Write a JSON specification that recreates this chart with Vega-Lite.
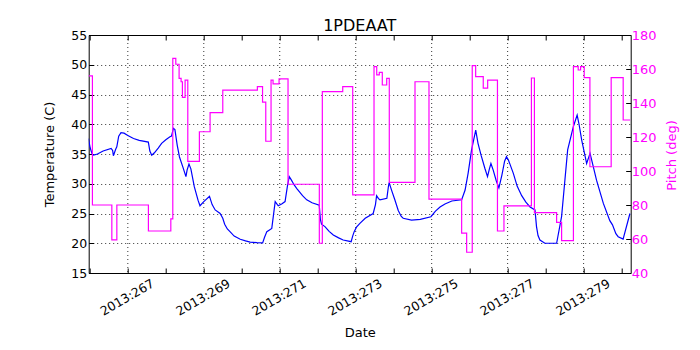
{
  "$schema": "https://vega.github.io/schema/vega-lite/v6.json",
  "autosize": {"type": "none"},
  "padding": {"left": 88.7, "top": 35, "right": 69.3, "bottom": 77},
  "width": 542,
  "height": 238,
  "title": {"text": "1PDEAAT", "fontSize": 16, "font": "DejaVu Sans", "fontWeight": "normal", "color": "black", "baseline": "alphabetic", "offset": 7, "dy": 25},
  "config": {
    "view": {"stroke": "black", "strokeWidth": 1},
    "font": "DejaVu Sans",
    "axis": {"labelFont": "DejaVu Sans", "titleFont": "DejaVu Sans", "labelFontSize": 12.5, "titleFontSize": 13, "titleFontWeight": "normal", "labelColor": "black", "titleColor": "black", "tickColor": "black", "domain": false, "gridColor": "black", "gridDash": [1, 3], "gridWidth": 0.8, "labelOverlap": false, "tickCount": 100}
  },
  "datasets": {
    "grid": [{"day": 267}, {"day": 269}, {"day": 271}, {"day": 273}, {"day": 275}, {"day": 277}, {"day": 279}],
    "temp": [
      {"day": 265.963, "temp": 37.6}, {"day": 266.01, "temp": 36.0}, {"day": 266.06, "temp": 35.0}, {"day": 266.1, "temp": 34.8}, {"day": 266.2, "temp": 35.0}, {"day": 266.35, "temp": 35.5}, {"day": 266.56, "temp": 35.95}, {"day": 266.6, "temp": 35.6}, {"day": 266.62, "temp": 34.7}, {"day": 266.68, "temp": 35.8}, {"day": 266.71, "temp": 36.2}, {"day": 266.76, "temp": 38.0}, {"day": 266.82, "temp": 38.6}, {"day": 266.9, "temp": 38.5}, {"day": 267.0, "temp": 38.1}, {"day": 267.15, "temp": 37.6}, {"day": 267.3, "temp": 37.3}, {"day": 267.54, "temp": 37.0}, {"day": 267.58, "temp": 35.5}, {"day": 267.63, "temp": 34.8}, {"day": 267.7, "temp": 35.2}, {"day": 267.8, "temp": 36.0}, {"day": 267.89, "temp": 36.8}, {"day": 268.0, "temp": 37.4}, {"day": 268.11, "temp": 37.9}, {"day": 268.15, "temp": 38.0}, {"day": 268.2, "temp": 39.3}, {"day": 268.24, "temp": 39.1}, {"day": 268.3, "temp": 36.5}, {"day": 268.36, "temp": 34.5}, {"day": 268.45, "temp": 32.8}, {"day": 268.53, "temp": 31.2}, {"day": 268.56, "temp": 32.3}, {"day": 268.61, "temp": 33.3}, {"day": 268.66, "temp": 32.5}, {"day": 268.75, "temp": 29.5}, {"day": 268.85, "temp": 27.2}, {"day": 268.9, "temp": 26.3}, {"day": 269.0, "temp": 27.0}, {"day": 269.15, "temp": 27.9}, {"day": 269.22, "temp": 26.5}, {"day": 269.3, "temp": 25.6}, {"day": 269.43, "temp": 25.0}, {"day": 269.5, "temp": 24.2}, {"day": 269.55, "temp": 23.2}, {"day": 269.62, "temp": 22.4}, {"day": 269.69, "temp": 21.95}, {"day": 269.8, "temp": 21.2}, {"day": 269.96, "temp": 20.67}, {"day": 270.1, "temp": 20.4}, {"day": 270.22, "temp": 20.2}, {"day": 270.4, "temp": 20.1}, {"day": 270.55, "temp": 20.05}, {"day": 270.6, "temp": 21.0}, {"day": 270.66, "temp": 21.95}, {"day": 270.72, "temp": 22.2}, {"day": 270.79, "temp": 22.5}, {"day": 270.88, "temp": 27.0}, {"day": 270.96, "temp": 26.3}, {"day": 271.05, "temp": 26.6}, {"day": 271.14, "temp": 27.0}, {"day": 271.2, "temp": 29.5}, {"day": 271.25, "temp": 31.2}, {"day": 271.3, "temp": 30.7}, {"day": 271.38, "temp": 29.8}, {"day": 271.45, "temp": 29.2}, {"day": 271.6, "temp": 28.0}, {"day": 271.71, "temp": 27.3}, {"day": 271.85, "temp": 26.8}, {"day": 272.04, "temp": 26.4}, {"day": 272.07, "temp": 24.0}, {"day": 272.1, "temp": 23.2}, {"day": 272.19, "temp": 22.8}, {"day": 272.3, "temp": 22.0}, {"day": 272.41, "temp": 21.4}, {"day": 272.55, "temp": 20.9}, {"day": 272.67, "temp": 20.55}, {"day": 272.88, "temp": 20.26}, {"day": 272.92, "temp": 21.2}, {"day": 272.96, "temp": 21.95}, {"day": 273.02, "temp": 22.7}, {"day": 273.11, "temp": 23.35}, {"day": 273.25, "temp": 24.2}, {"day": 273.46, "temp": 25.0}, {"day": 273.52, "temp": 26.5}, {"day": 273.55, "temp": 28.0}, {"day": 273.6, "temp": 27.5}, {"day": 273.64, "temp": 27.3}, {"day": 273.82, "temp": 27.55}, {"day": 273.86, "temp": 29.5}, {"day": 273.88, "temp": 30.2}, {"day": 273.95, "temp": 28.8}, {"day": 274.03, "temp": 27.3}, {"day": 274.12, "temp": 25.5}, {"day": 274.2, "temp": 24.5}, {"day": 274.25, "temp": 24.2}, {"day": 274.47, "temp": 23.9}, {"day": 274.7, "temp": 24.0}, {"day": 274.98, "temp": 24.46}, {"day": 275.1, "temp": 25.4}, {"day": 275.22, "temp": 26.1}, {"day": 275.35, "temp": 26.6}, {"day": 275.53, "temp": 27.1}, {"day": 275.79, "temp": 27.3}, {"day": 275.88, "temp": 28.95}, {"day": 275.96, "temp": 31.8}, {"day": 276.05, "temp": 35.7}, {"day": 276.16, "temp": 39.0}, {"day": 276.22, "temp": 36.8}, {"day": 276.3, "temp": 34.8}, {"day": 276.4, "temp": 32.6}, {"day": 276.47, "temp": 31.2}, {"day": 276.52, "temp": 32.5}, {"day": 276.56, "temp": 33.4}, {"day": 276.62, "temp": 32.3}, {"day": 276.7, "temp": 30.5}, {"day": 276.77, "temp": 29.3}, {"day": 276.85, "temp": 31.5}, {"day": 276.92, "temp": 33.8}, {"day": 276.97, "temp": 34.55}, {"day": 277.02, "temp": 34.0}, {"day": 277.15, "temp": 31.75}, {"day": 277.25, "temp": 29.6}, {"day": 277.37, "temp": 28.0}, {"day": 277.48, "temp": 26.9}, {"day": 277.59, "temp": 26.1}, {"day": 277.72, "temp": 25.6}, {"day": 277.76, "temp": 22.8}, {"day": 277.8, "temp": 21.3}, {"day": 277.85, "temp": 20.55}, {"day": 277.98, "temp": 20.0}, {"day": 278.29, "temp": 20.0}, {"day": 278.42, "temp": 24.46}, {"day": 278.58, "temp": 35.7}, {"day": 278.73, "temp": 39.6}, {"day": 278.83, "temp": 41.55}, {"day": 278.88, "temp": 40.0}, {"day": 278.95, "temp": 37.35}, {"day": 279.08, "temp": 33.4}, {"day": 279.17, "temp": 35.1}, {"day": 279.25, "temp": 33.0}, {"day": 279.34, "temp": 30.6}, {"day": 279.52, "temp": 26.7}, {"day": 279.69, "temp": 23.8}, {"day": 279.76, "temp": 23.1}, {"day": 279.85, "temp": 21.6}, {"day": 279.91, "temp": 21.1}, {"day": 280.04, "temp": 20.7}, {"day": 280.22, "temp": 25.0}
    ],
    "pitch": [
      {"day": 265.963, "pitch": 156}, {"day": 266.068, "pitch": 80}, {"day": 266.579, "pitch": 59.5}, {"day": 266.711, "pitch": 80}, {"day": 267.542, "pitch": 64.7}, {"day": 268.132, "pitch": 71.8}, {"day": 268.184, "pitch": 166.3}, {"day": 268.263, "pitch": 162.8}, {"day": 268.35, "pitch": 154.5}, {"day": 268.403, "pitch": 152.5}, {"day": 268.437, "pitch": 143.3}, {"day": 268.508, "pitch": 153.5}, {"day": 268.579, "pitch": 105.7}, {"day": 268.884, "pitch": 123.1}, {"day": 269.166, "pitch": 134.3}, {"day": 269.5, "pitch": 147.6}, {"day": 270.411, "pitch": 149.6}, {"day": 270.547, "pitch": 140.5}, {"day": 270.632, "pitch": 117.5}, {"day": 270.771, "pitch": 153.5}, {"day": 270.824, "pitch": 151.3}, {"day": 270.982, "pitch": 154.2}, {"day": 271.218, "pitch": 92.2}, {"day": 272.042, "pitch": 57.5}, {"day": 272.121, "pitch": 146.7}, {"day": 272.658, "pitch": 149.6}, {"day": 272.921, "pitch": 85.9}, {"day": 273.482, "pitch": 161.4}, {"day": 273.553, "pitch": 156.5}, {"day": 273.621, "pitch": 158}, {"day": 273.7, "pitch": 150.6}, {"day": 273.816, "pitch": 154.5}, {"day": 273.884, "pitch": 93.3}, {"day": 274.561, "pitch": 152.5}, {"day": 274.929, "pitch": 83.5}, {"day": 275.789, "pitch": 63.4}, {"day": 275.921, "pitch": 52.2}, {"day": 276.068, "pitch": 162}, {"day": 276.158, "pitch": 155.5}, {"day": 276.358, "pitch": 148.8}, {"day": 276.474, "pitch": 153.5}, {"day": 276.732, "pitch": 64.7}, {"day": 276.903, "pitch": 79.5}, {"day": 277.626, "pitch": 154.7}, {"day": 277.705, "pitch": 75.5}, {"day": 278.289, "pitch": 69.8}, {"day": 278.421, "pitch": 59.0}, {"day": 278.732, "pitch": 161.4}, {"day": 278.858, "pitch": 159.4}, {"day": 278.921, "pitch": 161.4}, {"day": 279.016, "pitch": 154.9}, {"day": 279.166, "pitch": 102.5}, {"day": 279.726, "pitch": 154.9}, {"day": 280.042, "pitch": 130}, {"day": 280.23, "pitch": 130}
    ]
  },
  "layer": [
    {
      "layer": [
        {
          "data": {"name": "grid"},
          "mark": {"type": "rule", "color": "black", "strokeWidth": 0.8, "strokeDash": [1, 3]},
          "encoding": {"x": {"field": "day", "type": "quantitative"}}
        },
        {
          "data": {"name": "temp"},
          "mark": {"type": "line", "color": "#0000ff", "strokeWidth": 1.2, "clip": true},
          "encoding": {
            "x": {"field": "day", "type": "quantitative",
              "scale": {"domain": [265.97, 280.24], "nice": false, "zero": false},
              "axis": {"orient": "bottom", "title": "Date", "values": [266, 267, 268, 269, 270, 271, 272, 273, 274, 275, 276, 277, 278, 279, 280], "tickCount": 100,
                "labelExpr": "datum.value % 2 == 1 ? '2013:' + datum.value : ''",
                "labelAngle": -30, "labelAlign": "center", "labelBaseline": "middle", "labelPadding": 29, "labelOffset": -1, "labelFontSize": 12.5,
                "tickSize": -5, "grid": false,
                "titleX": 271, "titleY": 59, "titleAlign": "center", "titleBaseline": "middle"}},
            "y": {"field": "temp", "type": "quantitative",
              "scale": {"domain": [15, 55], "nice": false, "zero": false},
              "axis": {"orient": "left", "title": "Temperature (C)", "values": [15, 20, 25, 30, 35, 40, 45, 50, 55], "tickCount": 100, "format": "d",
                "tickSize": -5, "labelPadding": 7, "grid": true,
                "titleX": -38.7, "titleY": 119, "titleAngle": 270, "titleAlign": "center", "titleBaseline": "middle"}}
          }
        },
        {
          "mark": {"type": "rule", "color": "#bfbf00", "strokeWidth": 3, "strokeDash": [10, 6]},
          "encoding": {"y": {"datum": 52.5, "type": "quantitative"}}
        },
        {
          "mark": {"type": "rule", "color": "#bfbf00", "strokeWidth": 2},
          "encoding": {"y": {"datum": 54.85, "type": "quantitative"}}
        },
        {
          "mark": {"type": "rule", "color": "#008000", "strokeWidth": 1, "strokeDash": [1, 2]},
          "encoding": {"x": {"datum": 272.92, "type": "quantitative"}}
        }
      ]
    },
    {
      "data": {"name": "pitch"},
      "mark": {"type": "line", "color": "#ff00ff", "strokeWidth": 1.2, "interpolate": "step-after", "clip": true},
      "encoding": {
        "x": {"field": "day", "type": "quantitative",
          "axis": {"orient": "top", "title": null, "labels": false, "grid": false, "tickSize": -5, "tickCount": 100, "values": [266, 267, 268, 269, 270, 271, 272, 273, 274, 275, 276, 277, 278, 279, 280]}},
        "y": {"field": "pitch", "type": "quantitative",
          "scale": {"domain": [40, 180], "nice": false, "zero": false},
          "axis": {"orient": "right", "title": "Pitch (deg)", "values": [40, 60, 80, 100, 120, 140, 160, 180], "tickCount": 100,
            "tickSize": -5, "labelPadding": 5.5, "grid": false, "labelColor": "#ff00ff", "titleColor": "#ff00ff", "labelFontSize": 13,
            "titleX": 41, "titleY": 120, "titleAngle": 270, "titleAlign": "center", "titleBaseline": "middle"}}
      }
    }
  ],
  "resolve": {"scale": {"y": "independent"}, "axis": {"x": "independent"}}
}
